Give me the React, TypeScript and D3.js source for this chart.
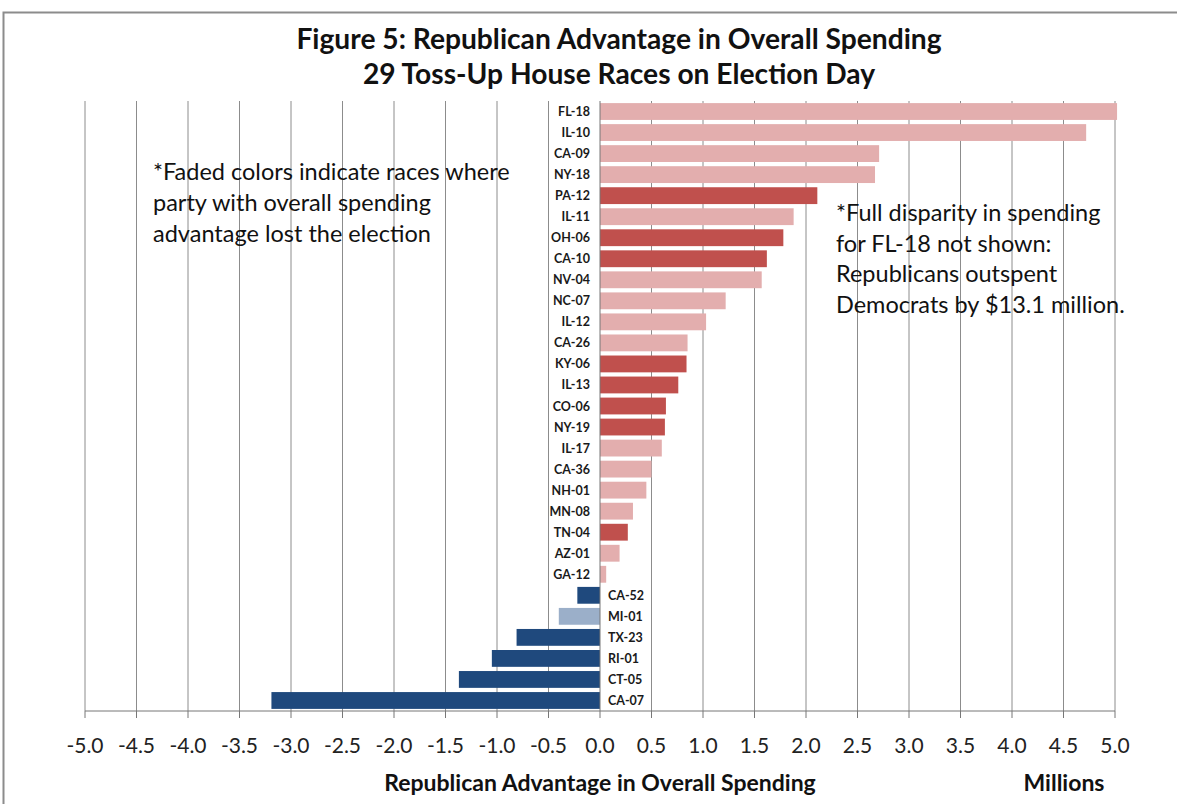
import React, { useEffect } from "react";
import * as d3 from "d3";

const races = ["FL-18","IL-10","CA-09","NY-18","PA-12","IL-11","OH-06","CA-10","NV-04","NC-07","IL-12","CA-26","KY-06","IL-13","CO-06","NY-19","IL-17","CA-36","NH-01","MN-08","TN-04","AZ-01","GA-12","CA-52","MI-01","TX-23","RI-01","CT-05","CA-07"];
// Republican advantage in overall spending, $ millions (FL-18 actual 13.1, shown truncated)
const advantage = [13.1,4.72,2.71,2.67,2.11,1.88,1.78,1.62,1.57,1.22,1.03,0.85,0.84,0.76,0.64,0.63,0.60,0.50,0.45,0.32,0.27,0.19,0.06,-0.22,-0.40,-0.81,-1.05,-1.37,-3.19];
// true when the party with the spending advantage lost the election (faded colour)
const advantageLost = [true,true,true,true,false,true,false,false,true,true,true,true,false,false,false,false,true,true,true,true,false,true,true,false,true,false,false,false,false];
const tickValues = [-5,-4.5,-4,-3.5,-3,-2.5,-2,-1.5,-1,-0.5,0,0.5,1,1.5,2,2.5,3,3.5,4,4.5,5];
const titleLines = ["Figure 5: Republican Advantage in Overall Spending","29 Toss-Up House Races on Election Day"];
const leftNote = ["*Faded colors indicate races where","party with overall spending","advantage lost the election"];
const rightNote = ["*Full disparity in spending","for FL-18 not shown:","Republicans outspent","Democrats by $13.1 million."];

const FONT = "Lato, 'Open Sans', sans-serif";

export default function App() {
  useEffect(() => {
    document.body.style.margin = "0";
  }, []);
  const W = 1177, H = 804;
  const x = d3.scaleLinear().domain([-5, 5]).range([85, 1115]);
  const y = d3.scaleBand<string>().domain(races).range([101, 711]).paddingInner(0.2).paddingOuter(0.1);
  const clampMax = 5.02;
  const color = (v: number, lost: boolean) =>
    v >= 0 ? (lost ? "#e3aeae" : "#c0504d") : (lost ? "#9bafc9" : "#1f497d");
  const fmt = (v: number) => d3.format(".1f")(v).replace("\u2212", "-");
  return (
    <svg width={W} height={H} style={{ display: "block", background: "#fff" }} fontFamily={FONT}>
      <rect x={3.5} y={12.5} width={1300} height={900} fill="#fff" stroke="#8c8c8c" strokeWidth={2} />
      {titleLines.map((t, i) => (
        <text key={t} x={619} y={49 + i * 35} textAnchor="middle" fontSize={28.2} fontWeight="bold" fill="#111">{t}</text>
      ))}
      {tickValues.filter(v => v !== 0).map(v => (
        <line key={"g" + v} x1={x(v)} x2={x(v)} y1={101} y2={711} stroke="#8c8c8c" strokeWidth={1} />
      ))}
      {races.map((r, i) => {
        const v = Math.min(advantage[i], clampMax);
        const x0 = x(Math.min(0, v)), x1 = x(Math.max(0, v));
        return (
          <rect key={r} x={x0} y={y(r)!} width={x1 - x0} height={y.bandwidth()} fill={color(v, advantageLost[i])} />
        );
      })}
      <line x1={x(0)} x2={x(0)} y1={101} y2={711} stroke="#777" strokeWidth={1} />
      <line x1={x(-5)} x2={x(5)} y1={711} y2={711} stroke="#777" strokeWidth={1} />
      {tickValues.map(v => (
        <line key={"t" + v} x1={x(v)} x2={x(v)} y1={711} y2={718} stroke="#777" strokeWidth={1} />
      ))}
      {tickValues.map(v => (
        <text key={"l" + v} x={x(v)} y={753} textAnchor="middle" fontSize={21} fill="#222">{fmt(v)}</text>
      ))}
      {races.map((r, i) => {
        const v = advantage[i];
        const pos = v >= 0;
        return (
          <text key={"c" + r} x={pos ? x(0) - 10 : x(0) + 8} y={y(r)! + y.bandwidth() / 2 + 4.5}
            textAnchor={pos ? "end" : "start"} fontSize={12.5} fontWeight="bold" fill="#1a1a1a">{r}</text>
        );
      })}
      {leftNote.map((t, i) => (
        <text key={t} x={153} y={180 + i * 31} fontSize={23.5} fill="#111">{t}</text>
      ))}
      {rightNote.map((t, i) => (
        <text key={t} x={836} y={221 + i * 30.7} fontSize={23.5} fill="#111">{t}</text>
      ))}
      <text x={600} y={791} textAnchor="middle" fontSize={23} fontWeight="bold" fill="#111">Republican Advantage in Overall Spending</text>
      <text x={1064} y={791} textAnchor="middle" fontSize={23} fontWeight="bold" fill="#111">Millions</text>
    </svg>
  );
}
